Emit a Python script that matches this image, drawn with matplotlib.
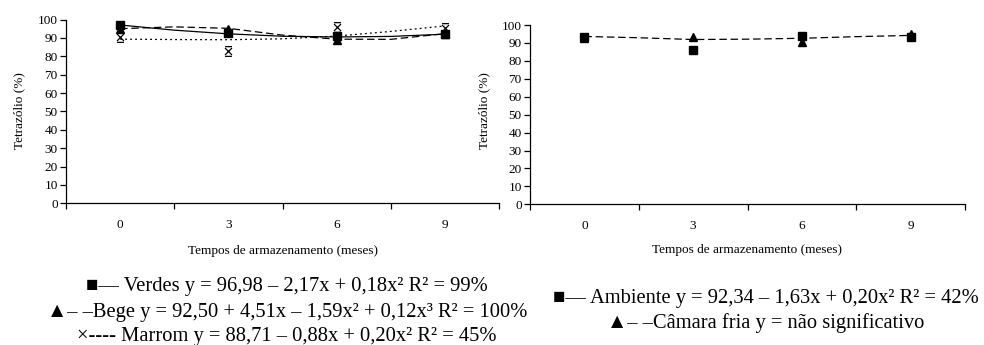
import matplotlib
matplotlib.use('Agg')
import matplotlib.pyplot as plt
from matplotlib.path import Path

plt.rcParams['font.family'] = 'serif'
plt.rcParams['font.serif'] = ['Liberation Serif', 'Times New Roman', 'DejaVu Serif']

# ─────────── data ───────────
meses = [0, 3, 6, 9]
tick_labels = ['0', '3', '6', '9']
trend_x = [0, 1.5, 3, 4.5, 6, 7.5, 9]

# left panel: colour of seeds
verdes = [97, 92.5, 91, 92]
bege = [95, 95, 89, 92]
marrom = [90.5, 83, 96, 95.5]
verdes_fit = [97, 94.2, 92.2, 90.9, 90.5, 90.8, 92]
bege_fit = [95, 96, 95.2, 91.5, 89.3, 89.2, 92.3]
marrom_fit = [89.3, 89.1, 89, 89.5, 91, 93.5, 96.5]

# right panel: storage environment
ambiente = [93.2, 86.1, 93.8, 93.5]
camara = [93, 93.2, 90.3, 95]
camara_fit = [93.6, 92.9, 91.9, 92.1, 92.6, 93.5, 94.2]

left_legend = [
    '■— Verdes y = 96,98 – 2,17x + 0,18x² R² = 99%',
    '▲– –Bege y = 92,50 + 4,51x – 1,59x² + 0,12x³ R² = 100%',
    '×---- Marrom y = 88,71 – 0,88x + 0,20x² R² = 45%',
]
right_legend = [
    '■— Ambiente y = 92,34 – 1,63x + 0,20x² R² = 42%',
    '▲– –Câmara fria y = não significativo',
]

# X marker with small bars above and below
xbar = Path([(-1, -1), (1, 1), (-1, 1), (1, -1),
             (-1, 1.4), (1, 1.4), (-1, -1.4), (1, -1.4)],
            [Path.MOVETO, Path.LINETO, Path.MOVETO, Path.LINETO,
             Path.MOVETO, Path.LINETO, Path.MOVETO, Path.LINETO])


def style_axes(ax):
    ax.set_xlim(-1.5, 10.5)
    ax.set_ylim(0, 100)
    ax.spines['top'].set_visible(False)
    ax.spines['right'].set_visible(False)
    ax.spines['left'].set_linewidth(0.9)
    ax.spines['bottom'].set_linewidth(0.9)
    ax.set_xticks([-1.5, 1.5, 4.5, 7.5, 10.5])
    ax.set_xticklabels([])
    ax.set_xticks(meses, minor=True)
    ax.set_xticklabels(tick_labels, minor=True)
    ax.tick_params(axis='x', which='major', direction='out', length=4, width=0.9)
    ax.tick_params(axis='x', which='minor', length=0, pad=11, labelsize=9.5)
    ax.set_yticks(range(0, 101, 10))
    ax.tick_params(axis='y', direction='out', length=4, width=0.9, pad=2, labelsize=9.5)


fig = plt.figure(figsize=(9.84, 3.45), dpi=100)

# ─────────── left panel ───────────
ax1 = fig.add_axes([66 / 984, 1 - 203.3 / 345, 433 / 984, 183.8 / 345])
ax1.plot(trend_x, verdes_fit, color='black', lw=0.9, ls='-')
ax1.plot(trend_x, bege_fit, color='black', lw=0.9, ls=(0, (6, 3)))
ax1.plot(trend_x, marrom_fit, color='black', lw=0.9, ls=(0, (1.5, 2.5)))
ax1.plot(meses, marrom, ls='none', marker=xbar, ms=7, mec='black', mew=0.9, color='black')
ax1.plot(meses, bege, ls='none', marker='^', ms=6, color='black')
ax1.plot(meses, verdes, ls='none', marker='s', ms=5.5, color='black')
style_axes(ax1)

# ─────────── right panel ───────────
ax2 = fig.add_axes([530 / 984, 1 - 204.3 / 345, 435 / 984, 179.3 / 345])
ax2.plot(trend_x, camara_fit, color='black', lw=0.9, ls=(0, (6, 3)))
ax2.plot(meses, camara, ls='none', marker='^', ms=6, color='black')
ax2.plot(meses, ambiente, ls='none', marker='s', ms=5.5, color='black')
style_axes(ax2)

# ─────────── labels ───────────
fig.text(19 / 984, 1 - 111 / 345, 'Tetrazólio (%)', rotation=90,
         ha='center', va='center', fontsize=9.5)
fig.text(484 / 984, 1 - 111 / 345, 'Tetrazólio (%)', rotation=90,
         ha='center', va='center', fontsize=9.5)
fig.text(283 / 984, 1 - 251 / 345, 'Tempos de armazenamento (meses)',
         ha='center', va='center', fontsize=9.5)
fig.text(747 / 984, 1 - 250 / 345, 'Tempos de armazenamento (meses)',
         ha='center', va='center', fontsize=9.5)

for i, line in enumerate(left_legend):
    fig.text(287 / 984, 1 - (287 + 25 * i) / 345, line,
             ha='center', va='center', fontsize=14.8)
for i, line in enumerate(right_legend):
    fig.text(766 / 984, 1 - (299 + 24 * i) / 345, line,
             ha='center', va='center', fontsize=14.8)

fig.savefig('out.png', dpi=100)
